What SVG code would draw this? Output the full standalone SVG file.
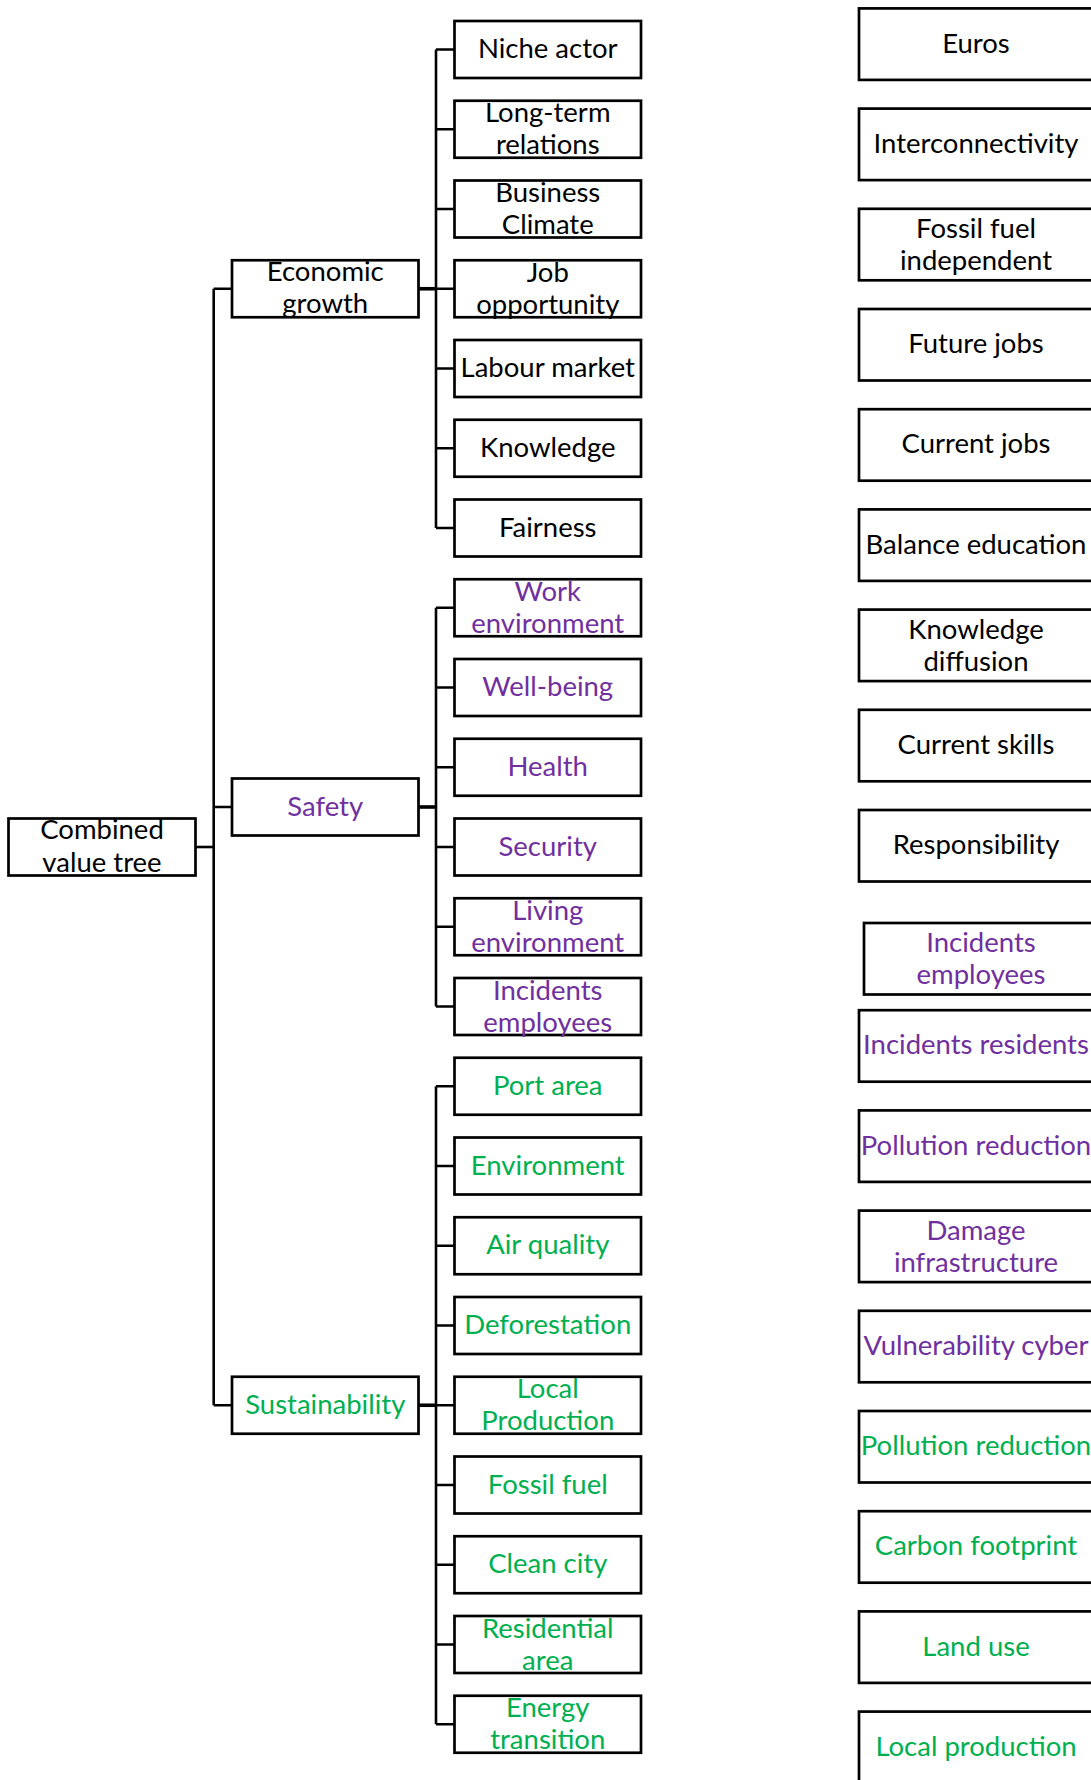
<svg xmlns="http://www.w3.org/2000/svg" width="1091" height="1780" viewBox="0 0 1091 1780">
  <style>
    .box { fill: #ffffff; stroke: #000000; stroke-width: 2.7; }
    .lbl { font-family: Lato, "Open Sans", sans-serif; font-size: 27.5px; text-anchor: middle; }
    .k { fill: #000000; }
    .p { fill: #7030A0; }
    .g { fill: #00B050; }
    .wire { fill: none; stroke: #000000; stroke-width: 2.6; }
  </style>
  <rect width="1091" height="1780" fill="#ffffff"/>

  <!-- connectors -->
  <g id="connectors" class="wire">
    <!-- root to main bus -->
    <path d="M195.5 847 H213.7"/>
    <path d="M213.7 288.75 V1405.25"/>
    <path d="M213.7 288.75 H232 M213.7 807 H232 M213.7 1405.25 H232"/>
    <!-- economic growth branch -->
    <path d="M418.5 288.75 H436" stroke-width="3.6"/>
    <path d="M436 49.5 V528"/>
    <path d="M436 49.5 H454.5 M436 129.25 H454.5 M436 209 H454.5 M436 288.75 H454.5 M436 368.5 H454.5 M436 448.25 H454.5 M436 528 H454.5"/>
    <!-- safety branch -->
    <path d="M418.5 807 H436" stroke-width="3.6"/>
    <path d="M436 607.75 V1006.5"/>
    <path d="M436 607.75 H454.5 M436 687.5 H454.5 M436 767.25 H454.5 M436 847 H454.5 M436 926.75 H454.5 M436 1006.5 H454.5"/>
    <!-- sustainability branch -->
    <path d="M418.5 1405.25 H436" stroke-width="3.6"/>
    <path d="M436 1086.25 V1724.25"/>
    <path d="M436 1086.25 H454.5 M436 1166 H454.5 M436 1245.75 H454.5 M436 1325.5 H454.5 M436 1405.25 H454.5 M436 1485 H454.5 M436 1564.75 H454.5 M436 1644.5 H454.5 M436 1724.25 H454.5"/>
  </g>

  <!-- root -->
  <g id="combined-value-tree">
    <rect class="box" x="8.5" y="818.5" width="187" height="57"/>
    <text class="lbl k" x="102" y="838.5">Combined</text>
    <text class="lbl k" x="102" y="871.5">value tree</text>
  </g>

  <!-- main criteria -->
  <g id="economic-growth">
    <rect class="box" x="232" y="260.25" width="186.5" height="57"/>
    <text class="lbl k" x="325.25" y="281.25">Economic</text>
    <text class="lbl k" x="325.25" y="312.75">growth</text>
  </g>
  <g id="safety">
    <rect class="box" x="232" y="778.5" width="186.5" height="57"/>
    <text class="lbl p" x="325.25" y="815.5">Safety</text>
  </g>
  <g id="sustainability">
    <rect class="box" x="232" y="1376.75" width="186.5" height="57"/>
    <text class="lbl g" x="325.25" y="1413.75">Sustainability</text>
  </g>

  <!-- economic sub-criteria -->
  <g id="niche-actor">
    <rect class="box" x="454.5" y="21" width="186.5" height="57"/>
    <text class="lbl k" x="547.75" y="58">Niche actor</text>
  </g>
  <g id="long-term-relations">
    <rect class="box" x="454.5" y="100.75" width="186.5" height="57"/>
    <text class="lbl k" x="547.75" y="122.25">Long-term</text>
    <text class="lbl k" x="547.75" y="154.25">relations</text>
  </g>
  <g id="business-climate">
    <rect class="box" x="454.5" y="180.5" width="186.5" height="57"/>
    <text class="lbl k" x="547.75" y="202">Business</text>
    <text class="lbl k" x="547.75" y="234">Climate</text>
  </g>
  <g id="job-opportunity">
    <rect class="box" x="454.5" y="260.25" width="186.5" height="57"/>
    <text class="lbl k" x="547.75" y="281.75">Job</text>
    <text class="lbl k" x="547.75" y="313.75">opportunity</text>
  </g>
  <g id="labour-market">
    <rect class="box" x="454.5" y="340" width="186.5" height="57"/>
    <text class="lbl k" x="547.75" y="377">Labour market</text>
  </g>
  <g id="knowledge">
    <rect class="box" x="454.5" y="419.75" width="186.5" height="57"/>
    <text class="lbl k" x="547.75" y="456.75">Knowledge</text>
  </g>
  <g id="fairness">
    <rect class="box" x="454.5" y="499.5" width="186.5" height="57"/>
    <text class="lbl k" x="547.75" y="536.5">Fairness</text>
  </g>

  <!-- safety sub-criteria -->
  <g id="work-environment">
    <rect class="box" x="454.5" y="579.25" width="186.5" height="57"/>
    <text class="lbl p" x="547.75" y="600.75">Work</text>
    <text class="lbl p" x="547.75" y="632.75">environment</text>
  </g>
  <g id="well-being">
    <rect class="box" x="454.5" y="659" width="186.5" height="57"/>
    <text class="lbl p" x="547.75" y="696">Well-being</text>
  </g>
  <g id="health">
    <rect class="box" x="454.5" y="738.75" width="186.5" height="57"/>
    <text class="lbl p" x="547.75" y="775.75">Health</text>
  </g>
  <g id="security">
    <rect class="box" x="454.5" y="818.5" width="186.5" height="57"/>
    <text class="lbl p" x="547.75" y="855.5">Security</text>
  </g>
  <g id="living-environment">
    <rect class="box" x="454.5" y="898.25" width="186.5" height="57"/>
    <text class="lbl p" x="547.75" y="919.75">Living</text>
    <text class="lbl p" x="547.75" y="951.75">environment</text>
  </g>
  <g id="incidents-employees">
    <rect class="box" x="454.5" y="978" width="186.5" height="57"/>
    <text class="lbl p" x="547.75" y="999.5">Incidents</text>
    <text class="lbl p" x="547.75" y="1031.5">employees</text>
  </g>

  <!-- sustainability sub-criteria -->
  <g id="port-area">
    <rect class="box" x="454.5" y="1057.75" width="186.5" height="57"/>
    <text class="lbl g" x="547.75" y="1094.75">Port area</text>
  </g>
  <g id="environment">
    <rect class="box" x="454.5" y="1137.5" width="186.5" height="57"/>
    <text class="lbl g" x="547.75" y="1174.5">Environment</text>
  </g>
  <g id="air-quality">
    <rect class="box" x="454.5" y="1217.25" width="186.5" height="57"/>
    <text class="lbl g" x="547.75" y="1254.25">Air quality</text>
  </g>
  <g id="deforestation">
    <rect class="box" x="454.5" y="1297" width="186.5" height="57"/>
    <text class="lbl g" x="547.75" y="1334">Deforestation</text>
  </g>
  <g id="local-production">
    <rect class="box" x="454.5" y="1376.75" width="186.5" height="57"/>
    <text class="lbl g" x="547.75" y="1398.25">Local</text>
    <text class="lbl g" x="547.75" y="1430.25">Production</text>
  </g>
  <g id="fossil-fuel">
    <rect class="box" x="454.5" y="1456.5" width="186.5" height="57"/>
    <text class="lbl g" x="547.75" y="1493.5">Fossil fuel</text>
  </g>
  <g id="clean-city">
    <rect class="box" x="454.5" y="1536.25" width="186.5" height="57"/>
    <text class="lbl g" x="547.75" y="1573.25">Clean city</text>
  </g>
  <g id="residential-area">
    <rect class="box" x="454.5" y="1616" width="186.5" height="57"/>
    <text class="lbl g" x="547.75" y="1637.5">Residential</text>
    <text class="lbl g" x="547.75" y="1669.5">area</text>
  </g>
  <g id="energy-transition">
    <rect class="box" x="454.5" y="1695.75" width="186.5" height="57"/>
    <text class="lbl g" x="547.75" y="1717.25">Energy</text>
    <text class="lbl g" x="547.75" y="1749.25">transition</text>
  </g>

  <!-- indicators -->
  <g id="euros">
    <rect class="box" x="859" y="8.4" width="250" height="71.5"/>
    <text class="lbl k" x="976" y="52.5">Euros</text>
  </g>
  <g id="interconnectivity">
    <rect class="box" x="859" y="108.6" width="250" height="71.5"/>
    <text class="lbl k" x="976" y="152.7">Interconnectivity</text>
  </g>
  <g id="fossil-fuel-independent">
    <rect class="box" x="859" y="208.8" width="250" height="71.5"/>
    <text class="lbl k" x="976" y="237.8">Fossil fuel</text>
    <text class="lbl k" x="976" y="269.8">independent</text>
  </g>
  <g id="future-jobs">
    <rect class="box" x="859" y="309" width="250" height="71.5"/>
    <text class="lbl k" x="976" y="353.1">Future jobs</text>
  </g>
  <g id="current-jobs">
    <rect class="box" x="859" y="409.2" width="250" height="71.5"/>
    <text class="lbl k" x="976" y="453.3">Current jobs</text>
  </g>
  <g id="balance-education">
    <rect class="box" x="859" y="509.4" width="250" height="71.5"/>
    <text class="lbl k" x="976" y="553.5">Balance education</text>
  </g>
  <g id="knowledge-diffusion">
    <rect class="box" x="859" y="609.6" width="250" height="71.5"/>
    <text class="lbl k" x="976" y="638.6">Knowledge</text>
    <text class="lbl k" x="976" y="670.6">diffusion</text>
  </g>
  <g id="current-skills">
    <rect class="box" x="859" y="709.8" width="250" height="71.5"/>
    <text class="lbl k" x="976" y="753.9">Current skills</text>
  </g>
  <g id="responsibility">
    <rect class="box" x="859" y="810" width="250" height="71.5"/>
    <text class="lbl k" x="976" y="854.1">Responsibility</text>
  </g>
  <g id="indicator-incidents-employees">
    <rect class="box" x="864" y="923" width="250" height="71.5"/>
    <text class="lbl p" x="981" y="952">Incidents</text>
    <text class="lbl p" x="981" y="984">employees</text>
  </g>
  <g id="incidents-residents">
    <rect class="box" x="859" y="1010.2" width="250" height="71.5"/>
    <text class="lbl p" x="976" y="1054.3">Incidents residents</text>
  </g>
  <g id="pollution-reduction-safety">
    <rect class="box" x="859" y="1110.4" width="250" height="71.5"/>
    <text class="lbl p" x="976" y="1154.5">Pollution reduction</text>
  </g>
  <g id="damage-infrastructure">
    <rect class="box" x="859" y="1210.6" width="250" height="71.5"/>
    <text class="lbl p" x="976" y="1239.6">Damage</text>
    <text class="lbl p" x="976" y="1271.6">infrastructure</text>
  </g>
  <g id="vulnerability-cyber">
    <rect class="box" x="859" y="1310.8" width="250" height="71.5"/>
    <text class="lbl p" x="976" y="1354.9">Vulnerability cyber</text>
  </g>
  <g id="pollution-reduction-sustainability">
    <rect class="box" x="859" y="1411" width="250" height="71.5"/>
    <text class="lbl g" x="976" y="1455.1">Pollution reduction</text>
  </g>
  <g id="carbon-footprint">
    <rect class="box" x="859" y="1511.2" width="250" height="71.5"/>
    <text class="lbl g" x="976" y="1555.3">Carbon footprint</text>
  </g>
  <g id="land-use">
    <rect class="box" x="859" y="1611.4" width="250" height="71.5"/>
    <text class="lbl g" x="976" y="1655.5">Land use</text>
  </g>
  <g id="local-production-indicator">
    <rect class="box" x="859" y="1711.6" width="250" height="71.5"/>
    <text class="lbl g" x="976" y="1755.7">Local production</text>
  </g>
</svg>
